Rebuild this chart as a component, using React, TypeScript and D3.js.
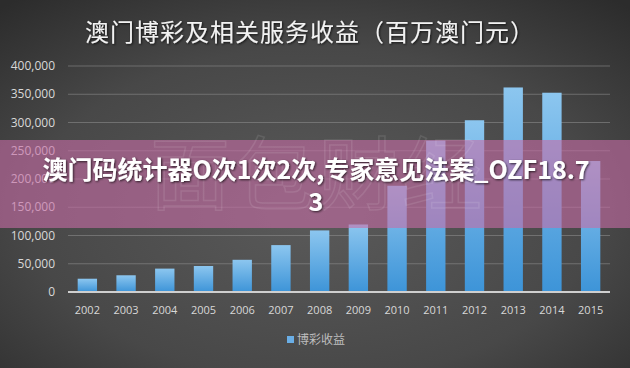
import React from "react";
import * as d3 from "d3";

const years = ["2002","2003","2004","2005","2006","2007","2008","2009","2010","2011","2012","2013","2014","2015"];
const revenue = [23500, 29600, 41400, 46000, 57000, 83000, 109000, 119500, 188000, 268000, 304000, 362000, 352700, 231800];
const yTicks = [0, 50000, 100000, 150000, 200000, 250000, 300000, 350000, 400000];
const title = "澳门博彩及相关服务收益（百万澳门元）";
const legendLabel = "博彩收益";
const overlayLine1 = "澳门码统计器O次1次2次,专家意见法案_OZF18.7";
const overlayLine2 = "3";
const watermark = "面包财经";

const W = 630, H = 368;
const left = 68, right = 610, top = 66, bottom = 292;

export default function App() {
  const x = d3.scaleBand<string>().domain(years).range([left, right]).paddingInner(0.5).paddingOuter(0.25);
  const y = d3.scaleLinear().domain([0, 400000]).range([bottom, top]);
  const fmt = d3.format(",");
  return (
    <svg width={W} height={H} style={{ position: "absolute", left: 0, top: 0 }} xmlns="http://www.w3.org/2000/svg">
      <defs>
        <radialGradient id="bg" cx="0.5" cy="0.58" r="0.75">
          <stop offset="0" stopColor="#5a5a5a" />
          <stop offset="0.6" stopColor="#484848" />
          <stop offset="1" stopColor="#2c2c2c" />
        </radialGradient>
        <linearGradient id="bar" x1="0" y1="0" x2="0" y2="1">
          <stop offset="0" stopColor="#8cc6ef" />
          <stop offset="1" stopColor="#3d94d8" />
        </linearGradient>
        <filter id="shadow" x="-10%" y="-30%" width="120%" height="160%">
          <feDropShadow dx="1" dy="1" stdDeviation="1" floodColor="#000" floodOpacity="0.7" />
        </filter>
      </defs>
      <rect x={0} y={0} width={W} height={H} fill="url(#bg)" />
      <text x={310} y={41} textAnchor="middle" fill="#f2f2f2" fontSize={24}
        fontFamily="'Noto Sans CJK SC', sans-serif" filter="url(#shadow)" letterSpacing={1}>{title}</text>
      {yTicks.map((t) => (
        <g key={t}>
          {t > 0 && <line x1={left} x2={right} y1={y(t)} y2={y(t)} stroke="#8a8a8a" strokeOpacity={0.6} strokeWidth={1} />}
          <text x={55} y={y(t) + 4} textAnchor="end" fill="#d8d8d8" fontSize={12}
            fontFamily="'Open Sans', 'DejaVu Sans', sans-serif">{fmt(t)}</text>
        </g>
      ))}
      {years.map((yr, i) => (
        <rect key={yr} x={x(yr)} y={y(revenue[i])} width={x.bandwidth()} height={bottom - y(revenue[i])} fill="url(#bar)" />
      ))}
      <line x1={left} x2={right} y1={bottom} y2={bottom} stroke="#cfcfcf" strokeWidth={2} />
      {years.map((yr) => (
        <text key={yr} x={(x(yr) as number) + x.bandwidth() / 2} y={314} textAnchor="middle" fill="#d8d8d8" fontSize={11}
          fontFamily="'Open Sans', 'DejaVu Sans', sans-serif">{yr}</text>
      ))}
      <rect x={287} y={336} width={7} height={7} fill="#6aaee6" />
      <text x={297} y={344} fill="#bdbdbd" fontSize={12} fontFamily="'Noto Sans CJK SC', serif">{legendLabel}</text>
      <rect x={0} y={140} width={W} height={88} fill="#c86ca7" fillOpacity={0.6} />
      <text x={318} y={203} textAnchor="middle" fontSize={80} fill="none" stroke="#ffffff" strokeOpacity={0.1}
        strokeWidth={1.5} fontFamily="'Noto Sans CJK SC', sans-serif" letterSpacing={4}>{watermark}</text>
      <text x={316} y={179} textAnchor="middle" fill="#ffffff" fontSize={25} fontWeight="bold"
        fontFamily="'Noto Sans CJK SC', sans-serif" filter="url(#shadow)">{overlayLine1}</text>
      <text x={316} y={211} textAnchor="middle" fill="#ffffff" fontSize={25} fontWeight="bold"
        fontFamily="'Noto Sans CJK SC', sans-serif" filter="url(#shadow)">{overlayLine2}</text>
    </svg>
  );
}
